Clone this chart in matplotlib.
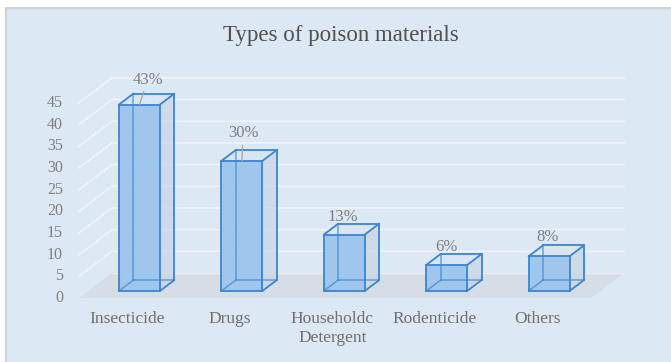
import matplotlib.pyplot as plt
from matplotlib.patches import Polygon, Rectangle
from matplotlib.lines import Line2D

plt.rcParams['font.family'] = ['Liberation Serif', 'DejaVu Serif']

# data
categories = ['Insecticide', 'Drugs', 'Householdc\nDetergent', 'Rodenticide', 'Others']
percent = [43, 30, 13, 6, 8]
y_ticks = [0, 5, 10, 15, 20, 25, 30, 35, 40, 45]

# offsets (points) of each value label from the front top edge of its column
label_offsets = [(6, 18), (1, 20), (-1, 13), (0, 13), (-1, 14)]
with_leader = [True, True, False, False, False]

# oblique projection: depth z in [0, 1] moves a point right and up
DX, DY = 0.322, 5.77


def proj(x, v, z):
    return (x + DX * z, v + DY * z)


fig = plt.figure(figsize=(6.71, 3.62), dpi=100)

# chart area background with a thin grey frame on top/left
fig.patches.append(Rectangle((7 / 671, 0), 1, 1 - 9 / 362, transform=fig.transFigure,
                             facecolor='#dde8f5', edgecolor='none', zorder=-2))
fig.add_artist(Line2D([6 / 671, 6 / 671, 1], [0, 1 - 8 / 362, 1 - 8 / 362],
                      color='#d2d2d2', lw=1.5, zorder=-1))

ax = fig.add_axes([0, 0, 1, 1])
ax.set_xlim(-1.2715, 5.281)
ax.set_ylim(-14.76, 68.74)
ax.axis('off')

n = len(categories)
x_lo, x_hi = -0.5, n - 0.5

# floor
ax.add_patch(Polygon([proj(x_lo, 0, 0), proj(x_hi, 0, 0), proj(x_hi, 0, 1), proj(x_lo, 0, 1)],
                     closed=True, facecolor='#d5dde7', edgecolor='none', zorder=1))

# gridlines on the side wall and back wall
for v in y_ticks[1:]:
    pts = [proj(x_lo, v, 0), proj(x_lo, v, 1), proj(x_hi, v, 1)]
    ax.plot([p[0] for p in pts], [p[1] for p in pts], color='#eef3f9', lw=1.3, zorder=1.5)
b0, b1 = proj(x_lo, 0, 1), proj(x_hi, 0, 1)
ax.plot([b0[0], b1[0]], [b0[1], b1[1]], color='#e6edf5', lw=1.0, zorder=1.5)

# value axis labels
for v in y_ticks:
    ax.annotate(str(v), xy=proj(x_lo, v, 0), xytext=(-11.5, 0), textcoords='offset points',
                ha='right', va='center', fontsize=11.5, color='#7f7f7f')

# columns drawn as see-through boxes
w = 0.2
zf, zb = 0.28, 0.72
edge = '#3d84ce'
for i, v in enumerate(percent):
    c = {}
    for nm, (xx, vv, zz) in {
        'fbl': (i - w, 0, zf), 'fbr': (i + w, 0, zf), 'ftr': (i + w, v, zf), 'ftl': (i - w, v, zf),
        'bbl': (i - w, 0, zb), 'bbr': (i + w, 0, zb), 'btr': (i + w, v, zb), 'btl': (i - w, v, zb),
    }.items():
        c[nm] = proj(xx, vv, zz)

    ax.add_patch(Polygon([c['fbr'], c['bbr'], c['btr'], c['ftr']], closed=True,
                         facecolor='#c9d6e4', edgecolor='none', alpha=0.75, zorder=2))
    ax.add_patch(Polygon([c['ftl'], c['ftr'], c['btr'], c['btl']], closed=True,
                         facecolor='#d9e5f1', edgecolor='none', alpha=0.8, zorder=2))
    ax.add_patch(Polygon([c['fbl'], c['fbr'], c['ftr'], c['ftl']], closed=True,
                         facecolor='#9cc6ee', edgecolor='none', alpha=0.95, zorder=2.2))

    hidden = [('bbl', 'bbr'), ('bbl', 'btl'), ('fbl', 'bbl')]
    visible = [('fbl', 'fbr'), ('fbr', 'ftr'), ('ftr', 'ftl'), ('ftl', 'fbl'),
               ('fbr', 'bbr'), ('bbr', 'btr'), ('ftr', 'btr'), ('ftl', 'btl'), ('btl', 'btr')]
    for a, b in hidden:
        ax.plot([c[a][0], c[b][0]], [c[a][1], c[b][1]], color=edge, lw=1.2, alpha=0.65,
                zorder=2.4, solid_capstyle='round')
    for a, b in visible:
        ax.plot([c[a][0], c[b][0]], [c[a][1], c[b][1]], color=edge, lw=1.3,
                zorder=2.6, solid_capstyle='round')

    # value label
    top = proj(i, v, zf)
    arrow = dict(arrowstyle='-', color='#a6a6a6', lw=0.9, shrinkA=1, shrinkB=0) if with_leader[i] else None
    ax.annotate(f'{v}%', xy=top, xytext=label_offsets[i], textcoords='offset points',
                ha='center', va='center', fontsize=12, color='#7f7f7f', arrowprops=arrow,
                zorder=3)

# category labels
for i, name in enumerate(categories):
    ax.annotate(name, xy=proj(i, 0, 0), xytext=(-2, -9.5), textcoords='offset points',
                ha='center', va='top', fontsize=12.5, color='#6f6f6f', linespacing=1.25,
                multialignment='center')

fig.text(0.508, 1 - 35 / 362, 'Types of poison materials', ha='center', va='center',
         fontsize=16.5, color='#505050')

fig.savefig('out.png', dpi=100)
